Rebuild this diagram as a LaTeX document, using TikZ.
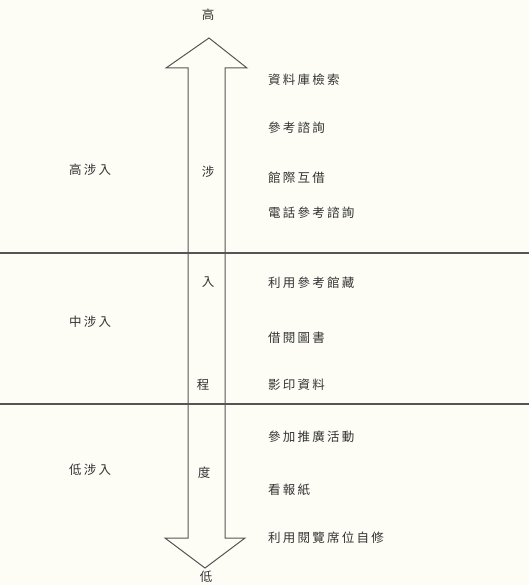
\documentclass[tikz,border=0pt]{standalone}
\usepackage{fontspec}
\newfontfamily\cjk[LetterSpace=18]{Noto Sans CJK TC}
\definecolor{bg}{HTML}{FDFDF6}
\definecolor{ink}{HTML}{333333}
\definecolor{ln}{HTML}{555555}
\begin{document}
\begin{tikzpicture}[x=1pt,y=-1pt,
  lbl/.style={font=\cjk\fontsize{12.5}{13}\selectfont,text=ink,inner sep=0pt},
  item/.style={lbl,anchor=west},
  rule/.style={draw=ln,line width=1.1pt},
  arrowshape/.style={draw=ln,line width=1pt,fill=bg,line join=miter}]
\fill[bg] (0,0) rectangle (529,585);
\useasboundingbox (0,0) rectangle (529,585);
% double block arrow
\draw[arrowshape] (209,38) -- (247,68) -- (225,68) -- (225,538) -- (245,538)
  -- (205,568) -- (165,538) -- (188,538) -- (188,68) -- (166,68) -- cycle;
% horizontal dividers
\coordinate (l1a) at (0,253); \coordinate (l1b) at (529,253);
\coordinate (l2a) at (0,404); \coordinate (l2b) at (529,404);
\draw[rule] (l1a) -- (l1b);
\draw[rule] (l2a) -- (l2b);
% ends
\node[lbl] (hi) at (208,15) {高};
\node[lbl] (lo) at (206,577) {低};
% arrow text
\node[lbl] (a1) at (208,172) {涉};
\node[lbl] (a2) at (208,282) {入};
\node[lbl] (a3) at (203,385) {程};
\node[lbl] (a4) at (204,473) {度};
% left levels
\node[lbl] (g1) at (90,170) {高涉入};
\node[lbl] (g2) at (90,322) {中涉入};
\node[lbl] (g3) at (90,470) {低涉入};
% items
\node[item] (i1) at (268,80) {資料庫檢索};
\node[item] (i2) at (268,128) {參考諮詢};
\node[item] (i3) at (268,178) {館際互借};
\node[item] (i4) at (268,213) {電話參考諮詢};
\node[item] (i5) at (268,283) {利用參考館藏};
\node[item] (i6) at (268,338) {借閱圖書};
\node[item] (i7) at (268,385) {影印資料};
\node[item] (i8) at (268,437) {參加推廣活動};
\node[item] (i9) at (268,490) {看報紙};
\node[item] (i10) at (268,538) {利用閱覽席位自修};
\end{tikzpicture}
\end{document}
